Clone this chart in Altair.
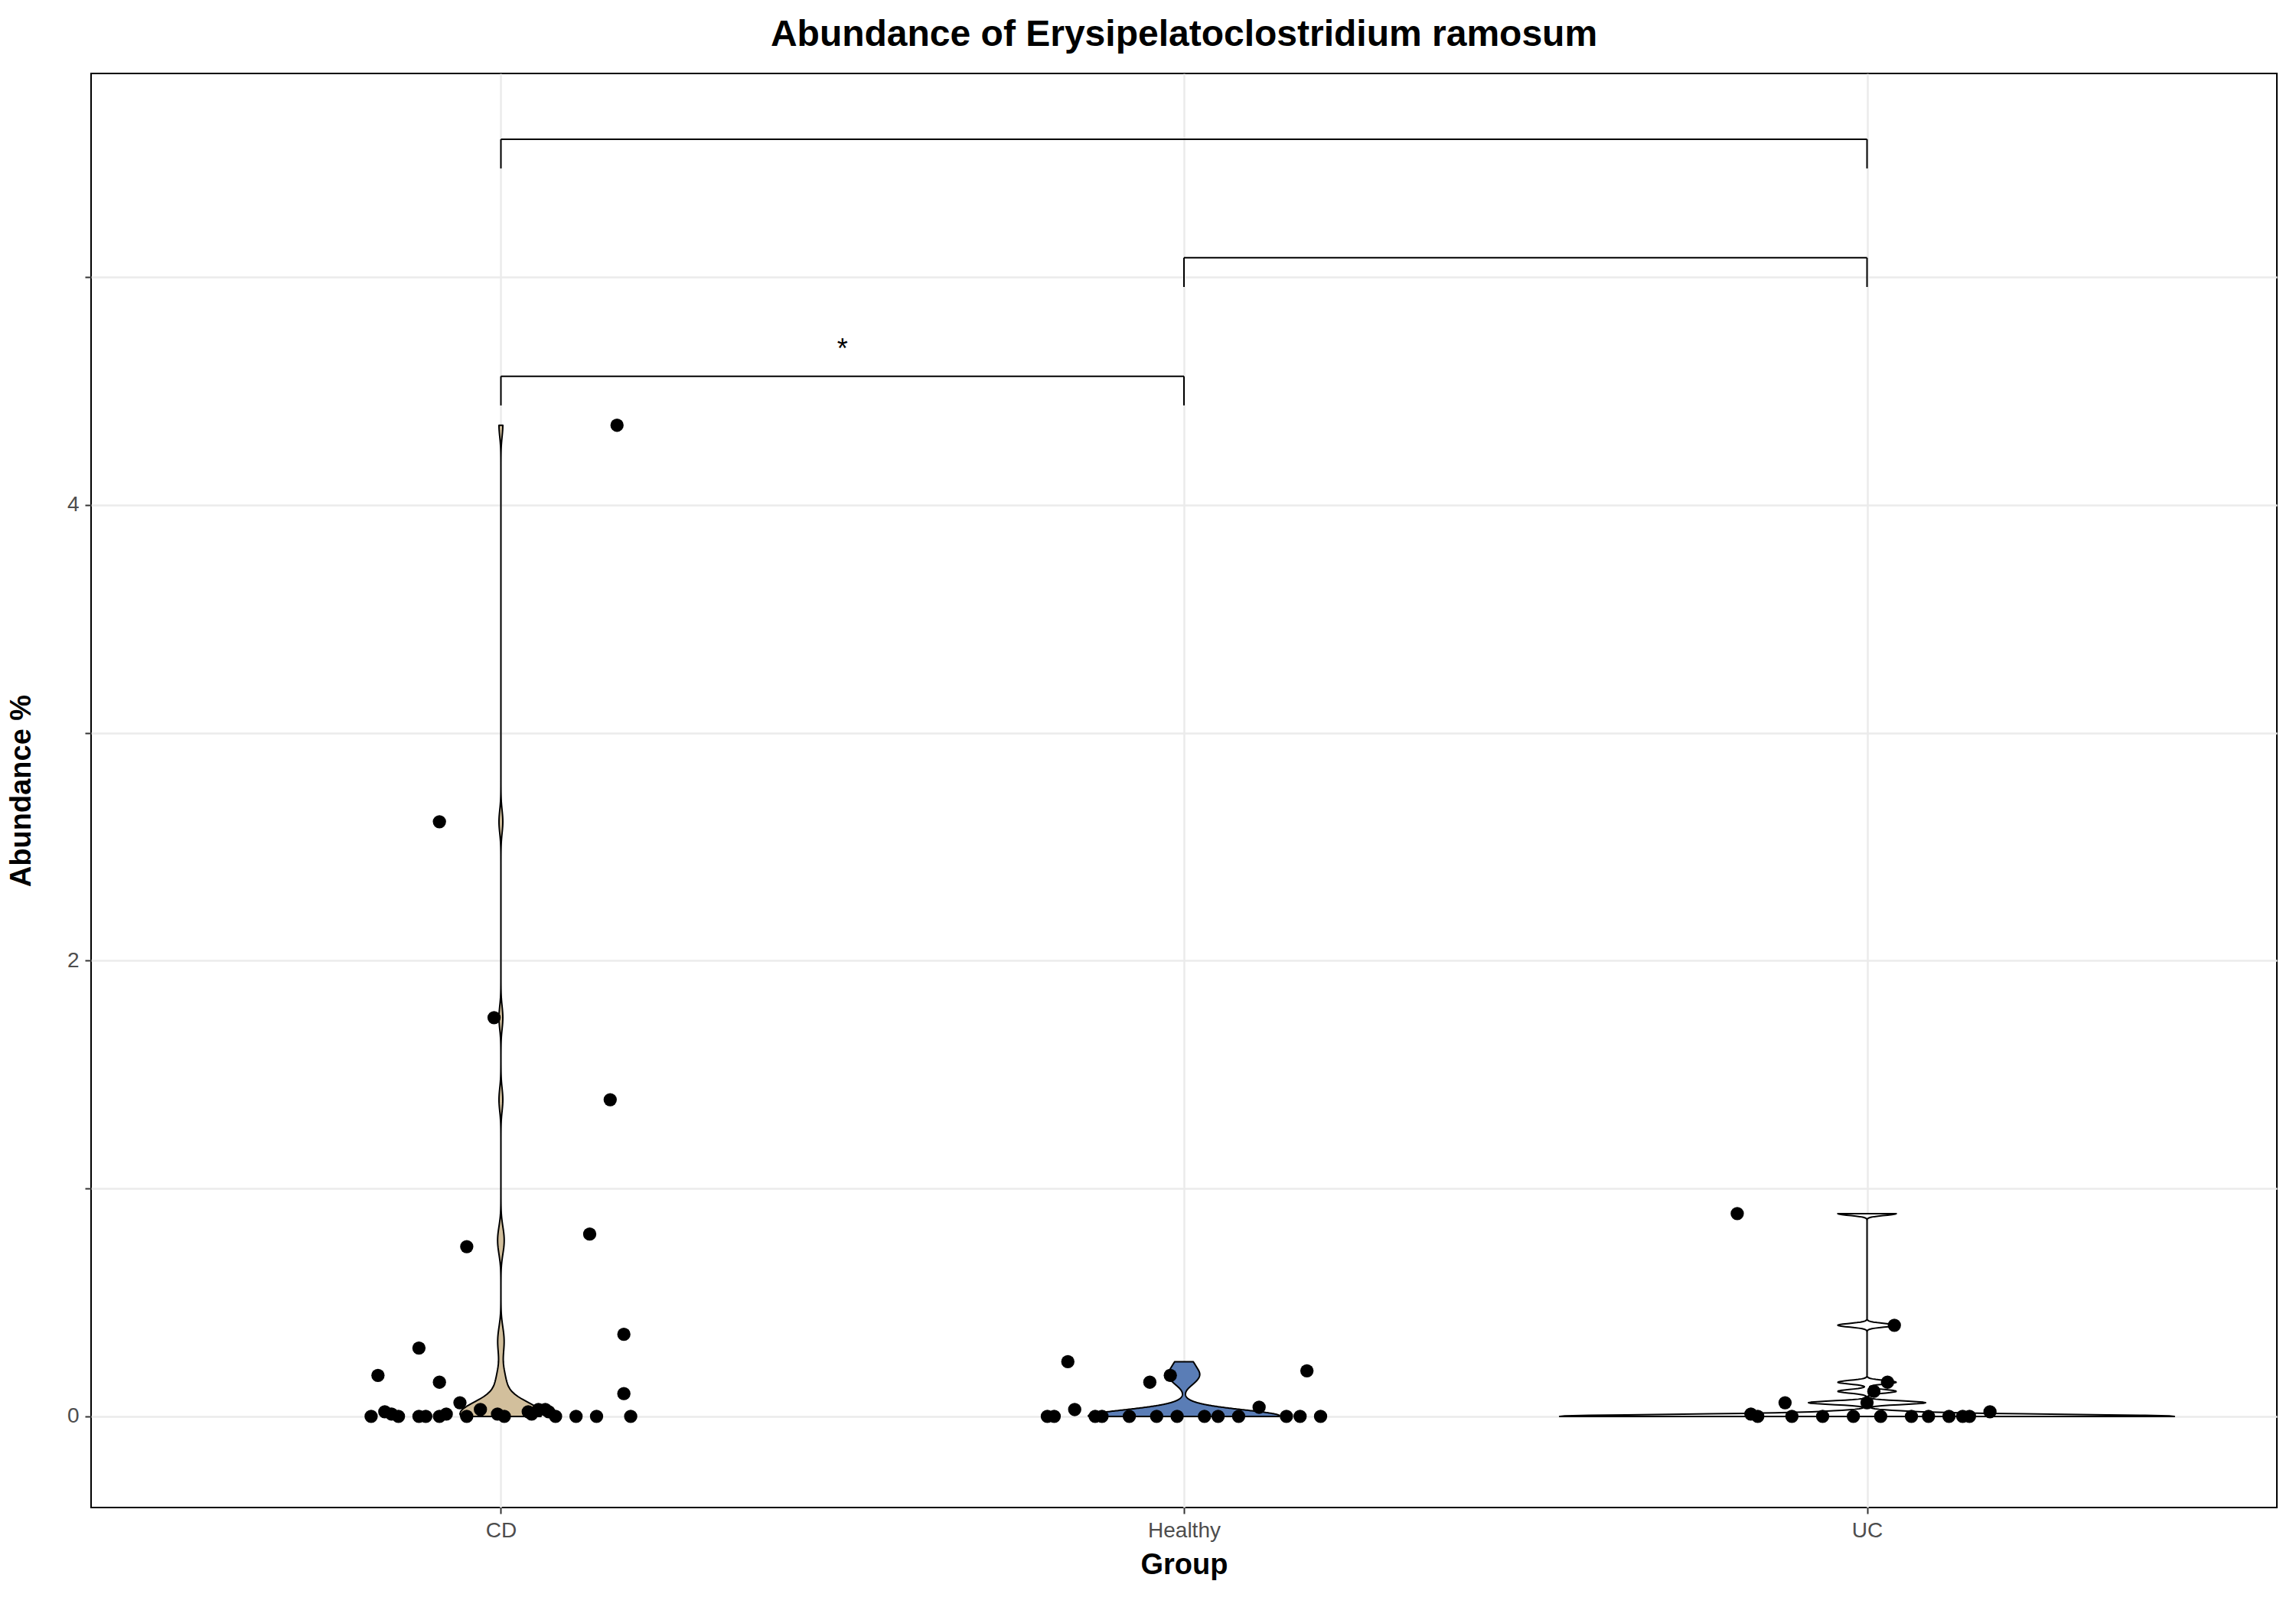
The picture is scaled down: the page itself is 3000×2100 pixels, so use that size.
import altair as alt
import pandas as pd

groups = ["CD", "Healthy", "UC"]
group_pos = [1, 2, 3]
fills = ["#d2bf9c", "#5a7db6", "#ffffff"]
half_width = [0.06, 0.14, 0.45]
bandwidth = [0.05, 0.025, 0.008]

# abundance values (%) and horizontal jitter offsets per group
cd_vals = [4.35, 2.61, 1.75, 1.39, 0.745, 0.80, 0.36, 0.30, 0.18, 0.15, 0.10, 0.06,
           0.0, 0.02, 0.01, 0.0, 0.0, 0.0, 0.0, 0.01, 0.0, 0.03, 0.01, 0.0, 0.02,
           0.03, 0.02, 0.0, 0.0, 0.0, 0.0, 0.01, 0.03]
cd_jit = [0.17, -0.09, -0.01, 0.16, -0.05, 0.13, 0.18, -0.12, -0.18, -0.09, 0.18, -0.06,
          -0.19, -0.17, -0.16, -0.15, -0.12, -0.11, -0.09, -0.08, -0.05, -0.03, -0.005,
          0.005, 0.04, 0.055, 0.07, 0.08, 0.11, 0.14, 0.19, 0.045, 0.065]
h_vals = [0.24, 0.20, 0.18, 0.15, 0.04, 0.03, 0.0, 0.0, 0.0, 0.0, 0.0, 0.0, 0.0,
          0.0, 0.0, 0.0, 0.0, 0.0, 0.0]
h_jit = [-0.17, 0.18, -0.02, -0.05, 0.11, -0.16, -0.2, -0.19, -0.13, -0.12, -0.08,
         -0.04, -0.01, 0.03, 0.05, 0.08, 0.15, 0.17, 0.2]
uc_vals = [0.89, 0.40, 0.15, 0.11, 0.06, 0.06, 0.02, 0.01, 0.0, 0.0, 0.0, 0.0,
           0.0, 0.0, 0.0, 0.0, 0.0, 0.0]
uc_jit = [-0.19, 0.04, 0.03, 0.01, -0.12, 0.0, 0.18, -0.17, -0.16, -0.11, -0.065,
          -0.02, 0.02, 0.065, 0.09, 0.12, 0.14, 0.15]

# significance brackets
br_x1 = [1, 2, 1]
br_x2 = [3, 3, 2]
br_y = [5.605, 5.085, 4.565]
br_tick = [5.477, 4.957, 4.437]
star_x = [1.5]
star_y = [4.68]
star_lab = ["*"]

rows = []
for g, p, vals, jit in [("CD", 1, cd_vals, cd_jit), ("Healthy", 2, h_vals, h_jit),
                        ("UC", 3, uc_vals, uc_jit)]:
    for v, j in zip(vals, jit):
        rows.append({"group": g, "pos": p, "value": v, "xj": p + j})
df = pd.DataFrame(rows)

xs = alt.Scale(domain=[0.4, 3.6], nice=False, zero=False)
ys = alt.Scale(domain=[-0.4, 5.894], nice=False, zero=False)
x_axis = alt.Axis(values=[1, 2, 3], title="Group",
                  labelExpr="datum.value == 1 ? 'CD' : datum.value == 2 ? 'Healthy' : 'UC'")
y_axis = alt.Axis(values=[0, 1, 2, 3, 4, 5], title="Abundance %",
                  labelExpr="datum.value % 2 == 0 ? '' + datum.value : ''")

violins = []
for g, p, f, hw, bw in zip(groups, group_pos, fills, half_width, bandwidth):
    v = alt.Chart(df[df.group == g]).transform_density(
        "value", as_=["v", "dens"], bandwidth=bw, steps=400
    ).transform_joinaggregate(mx="max(dens)").transform_calculate(
        xl=f"{p} - datum.dens / datum.mx * {hw}",
        xr=f"{p} + datum.dens / datum.mx * {hw}"
    ).mark_area(orient="horizontal", fill=f, fillOpacity=1, stroke="black",
                strokeWidth=2, strokeJoin="round").encode(
        y=alt.Y("v:Q", scale=ys, axis=y_axis),
        x=alt.X("xl:Q", scale=xs, axis=x_axis),
        x2="xr:Q",
    )
    violins.append(v)

points = alt.Chart(df).mark_circle(size=300, color="black", opacity=1).encode(
    x=alt.X("xj:Q", scale=xs), y=alt.Y("value:Q", scale=ys))

bdf = pd.DataFrame({"x1": br_x1, "x2": br_x2, "y": br_y, "t": br_tick})
hbar = alt.Chart(bdf).mark_rule(color="black", strokeWidth=2).encode(
    x=alt.X("x1:Q", scale=xs), x2="x2:Q", y=alt.Y("y:Q", scale=ys))
lt = alt.Chart(bdf).mark_rule(color="black", strokeWidth=2).encode(
    x=alt.X("x1:Q", scale=xs), y=alt.Y("y:Q", scale=ys), y2="t:Q")
rt = alt.Chart(bdf).mark_rule(color="black", strokeWidth=2).encode(
    x=alt.X("x2:Q", scale=xs), y=alt.Y("y:Q", scale=ys), y2="t:Q")
star = alt.Chart(pd.DataFrame({"x": star_x, "y": star_y, "s": star_lab})).mark_text(
    fontSize=36, font="Liberation Sans").encode(
    x=alt.X("x:Q", scale=xs), y=alt.Y("y:Q", scale=ys), text="s:N")

chart = alt.layer(*violins, points, hbar, lt, rt, star).properties(
    width=2856, height=1874,
    autosize=alt.AutoSizeParams(type="none"),
    padding={"left": 111, "top": 88, "right": 17, "bottom": 122},
    title=alt.Title("Abundance of Erysipelatoclostridium ramosum", fontSize=48,
                    font="Liberation Sans", fontWeight="bold", color="black", offset=26),
).configure_view(stroke="black", strokeWidth=2).configure_axis(
    labelFont="Liberation Sans", titleFont="Liberation Sans", labelFontSize=28,
    labelColor="#4d4d4d", titleFontSize=38, titleColor="black", titleFontWeight="bold",
    gridColor="#ebebeb", gridWidth=2.5, domain=False, tickColor="#333333", tickSize=8,
    tickWidth=2, labelPadding=8,
).configure_axisX(titlePadding=12).configure_axisY(titlePadding=40)

chart.save("out.html", embed_options={"renderer": "svg", "actions": False})
